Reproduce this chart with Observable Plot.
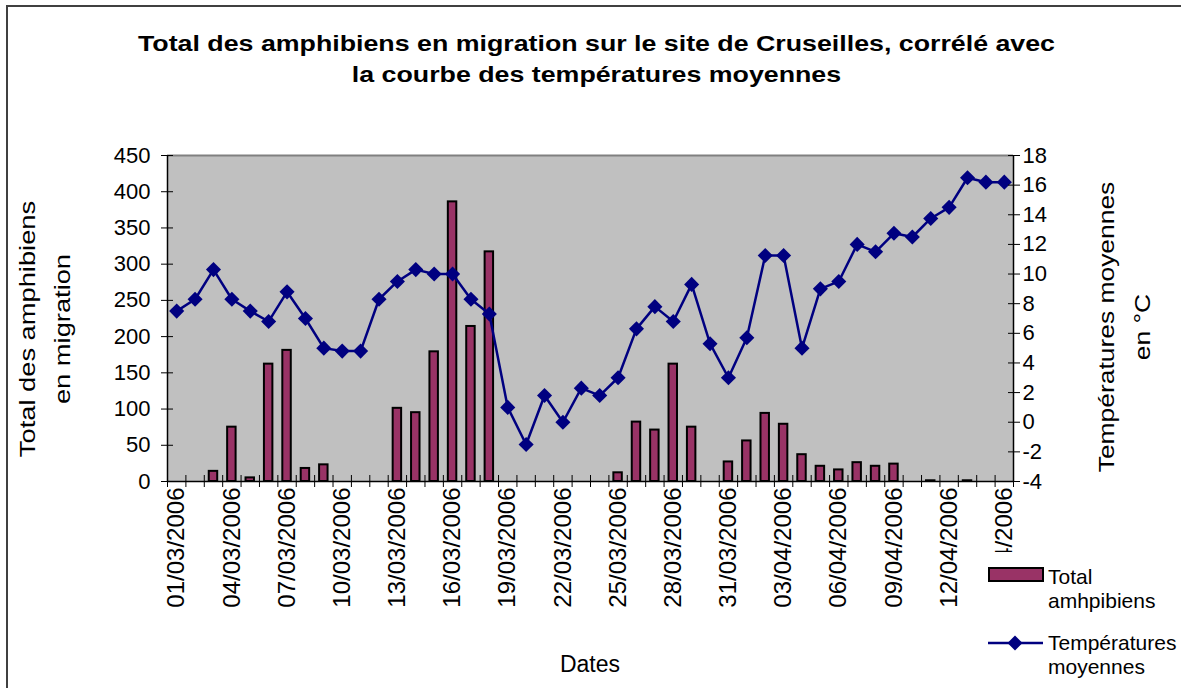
<!DOCTYPE html>
<html><head><meta charset="utf-8">
<script src="https://cdn.jsdelivr.net/npm/d3@7"></script>
<script src="https://cdn.jsdelivr.net/npm/@observablehq/plot@0.6"></script>
<style>
body{margin:0;background:#fff;font-family:"Liberation Sans",Arial,sans-serif;color:#000;}
#wrap{position:relative;width:1181px;height:688px;overflow:hidden;}
#frame{position:absolute;left:6px;top:5px;width:1300px;height:800px;border:2px solid #404040;box-sizing:border-box;}
#chart{position:absolute;left:0;top:0;}
#title{position:absolute;left:6px;width:1181px;top:28px;text-align:center;font-weight:bold;font-size:22.3px;line-height:31px;transform:scaleX(1.2);}
.rot{position:absolute;text-align:center;white-space:nowrap;font-size:22px;}
#xlabel{position:absolute;left:490px;width:200px;top:653px;text-align:center;font-size:23px;line-height:23px;}
#legend{position:absolute;left:982px;top:552px;width:199px;height:136px;background:#fff;font-size:21px;line-height:24px;}
.item{position:absolute;left:66px;}
</style></head>
<body>
<div id="wrap">
  <div id="frame"></div>
  <div id="chart"></div>
  <div id="title">Total des amphibiens en migration sur le site de Cruseilles, corrélé avec<br>la courbe des températures moyennes</div>
  <div class="rot" style="left:-115px;top:294px;width:320px;height:70px;line-height:35px;transform:rotate(-90deg) scaleX(1.24);">Total des amphibiens<br>en migration</div>
  <div class="rot" style="left:955px;top:291px;width:340px;height:72px;line-height:36px;transform:rotate(-90deg) scaleX(1.2);">Températures moyennes<br>en °C</div>
  <div id="xlabel">Dates</div>
  <div id="legend">
    <svg width="66" height="136" style="position:absolute;left:0;top:0;">
      <rect x="7" y="16" width="54" height="13" fill="#993366" stroke="#000" stroke-width="2"></rect>
      <line x1="6" x2="61" y1="91" y2="91" stroke="#000080" stroke-width="2.5"></line>
      <path d="M33,83.5L40.5,91L33,98.5L25.5,91Z" fill="#000080"></path>
    </svg>
    <div class="item" style="top:13px;">Total<br>amhpibiens</div>
    <div class="item" style="top:79px;">Températures<br>moyennes</div>
  </div>
</div>
<script>
const dates = ["01/03/2006","02/03/2006","03/03/2006","04/03/2006","05/03/2006","06/03/2006","07/03/2006","08/03/2006","09/03/2006","10/03/2006","11/03/2006","12/03/2006","13/03/2006","14/03/2006","15/03/2006","16/03/2006","17/03/2006","18/03/2006","19/03/2006","20/03/2006","21/03/2006","22/03/2006","23/03/2006","24/03/2006","25/03/2006","26/03/2006","27/03/2006","28/03/2006","29/03/2006","30/03/2006","31/03/2006","01/04/2006","02/04/2006","03/04/2006","04/04/2006","05/04/2006","06/04/2006","07/04/2006","08/04/2006","09/04/2006","10/04/2006","11/04/2006","12/04/2006","13/04/2006","14/04/2006","15/04/2006"];
const amphibiens = [0,0,14,75,5,162,181,18,23,0,0,0,101,95,179,386,214,317,0,0,0,0,0,0,12,82,71,162,75,0,27,56,94,79,37,21,16,26,21,24,0,1,0,1,0,0];
const temperatures = [7.5,8.3,10.3,8.3,7.5,6.8,8.8,7.0,5.0,4.8,4.8,8.3,9.5,10.3,10.0,10.0,8.3,7.3,1.0,-1.5,1.8,0.0,2.3,1.8,3.0,6.3,7.8,6.8,9.3,5.3,3.0,5.7,11.25,11.25,5.0,9.0,9.5,12.0,11.5,12.75,12.5,13.75,14.5,16.5,16.2,16.2];
const countTicks = [0,50,100,150,200,250,300,350,400,450];
const tempTicks = [-4,-2,0,2,4,6,8,10,12,14,16,18];
const labelEvery = 3;

const countMax = 450, tempMin = -4, tempMax = 18;
const toY = t => (t - tempMin) / (tempMax - tempMin) * countMax;
const fromY = v => Math.round(v / countMax * (tempMax - tempMin) + tempMin);
const idx = dates.map((d, i) => i);
const labelIdx = idx.filter(i => i % labelEvery === 0);
const boundaries = d3.range(-0.5, dates.length, 1);

const chart = Plot.plot({
  width: 1181, height: 688,
  marginLeft: 167, marginRight: 168, marginTop: 155, marginBottom: 207,
  style: {background: "transparent", fontFamily: "'Liberation Sans', Arial, sans-serif", color: "#000"},
  x: {type: "linear", domain: [-0.5, dates.length - 0.5], axis: null},
  y: {domain: [0, countMax], axis: null},
  marks: [
    Plot.frame({fill: "#C0C0C0", stroke: null}),
    Plot.ruleY([countMax], {stroke: "#808080", strokeWidth: 2}),
    Plot.rectY(idx.filter(i => amphibiens[i] > 0), {x1: i => i - 0.23, x2: i => i + 0.23, y: i => amphibiens[i], fill: "#993366", stroke: "#000", strokeWidth: 2}),
    Plot.line(idx, {x: i => i, y: i => toY(temperatures[i]), stroke: "#000080", strokeWidth: 2.5}),
    Plot.dot(idx, {x: i => i, y: i => toY(temperatures[i]), symbol: "diamond2", r: 6.8, fill: "#000080", stroke: null}),
    Plot.ruleY([0], {stroke: "#000", strokeWidth: 1.5}),
    Plot.ruleX([-0.5], {stroke: "#000", strokeWidth: 1.5}),
    Plot.ruleX([dates.length - 0.5], {stroke: "#000", strokeWidth: 1.5}),
    Plot.axisY({anchor: "left", ticks: countTicks, tickSize: 12, dx: 6, tickPadding: 11, fontSize: 22, label: null, tickFormat: d => String(d)}),
    Plot.axisY({anchor: "right", ticks: tempTicks.map(toY), tickSize: 12, dx: -6, tickPadding: 3, fontSize: 22, label: null, tickFormat: v => String(fromY(v))}),
    Plot.axisX({anchor: "bottom", ticks: boundaries, tickSize: 12, dy: -6, tickFormat: () => "", label: null}),
    Plot.axisX({anchor: "bottom", ticks: labelIdx, tickSize: 0, tickPadding: 6, tickRotate: -90, fontSize: 24, label: null, tickFormat: i => dates[i]})
  ]
});
document.getElementById("chart").appendChild(chart);
</script>
</body></html>
